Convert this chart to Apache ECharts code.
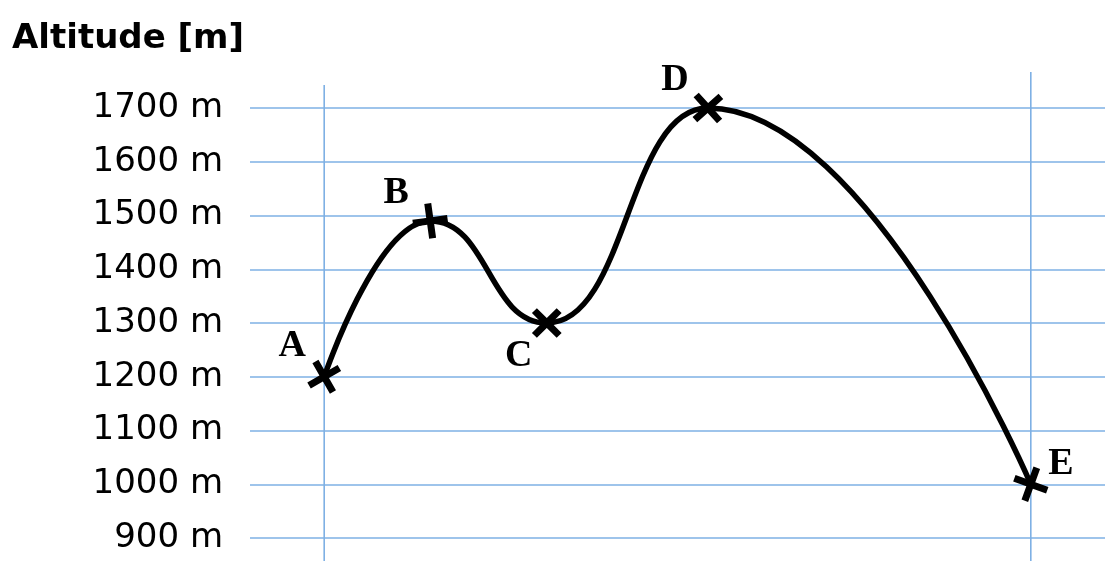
<!DOCTYPE html>
<html>
<head>
<meta charset="utf-8">
<script src="https://cdn.jsdelivr.net/npm/echarts@6/dist/echarts.min.js"></script>
<style>
  html, body { margin: 0; padding: 0; background: #fff; }
  #chart { width: 1105px; height: 561px; }
</style>
</head>
<body>
<div id="chart"></div>
<script>
// points along the route
const names = ["A", "B", "C", "D", "E"];
const distance = [0, 1.5, 3.15, 5.43, 10];
const altitude = [1200, 1490, 1300, 1700, 1000];
const yTicks = [900, 1000, 1100, 1200, 1300, 1400, 1500, 1600, 1700];

// cross rotation and label offset per point
const crossRotate = [30, 8, 45, 42, -20];
const labelOffset = [[-32, -31], [-34, -28], [-28, 33], [-33, -28], [30, -20]];

// vertical guide lines at start and end (top end in altitude units)
const guideTop = [1743, 1767];
const guideBottom = 850;

const gridBlue = "#7eb0e4";
const plus = "path://M-2,-10L2,-10L2,-2L10,-2L10,2L2,2L2,10L-2,10L-2,2L-10,2L-10,-2L-2,-2Z";

const points = names.map((n, i) => [distance[i], altitude[i]]);

const guide = (x, top) => ({
  type: "line",
  z: 1,
  silent: true,
  clip: false,
  symbol: "none",
  lineStyle: { color: gridBlue, width: 1.6 },
  data: [[x, top], [x, guideBottom]],
});

const chart = echarts.init(document.getElementById("chart"));
chart.setOption({
  animation: false,
  title: {
    text: "Altitude [m]",
    left: 7,
    top: 17,
    textStyle: { fontFamily: "DejaVu Sans", fontWeight: "bold", fontSize: 34, color: "#000" },
  },
  grid: { left: 250, right: 0, top: 108, bottom: 23 },
  xAxis: {
    type: "value",
    min: -1.05,
    max: 11.05,
    show: false,
    splitLine: { show: false },
  },
  yAxis: {
    type: "value",
    min: yTicks[0],
    max: yTicks[yTicks.length - 1],
    interval: 100,
    axisLine: { show: false },
    axisTick: { show: false },
    axisLabel: {
      formatter: (v) => v + " m",
      margin: 27,
      color: "#000",
      fontFamily: "DejaVu Sans",
      fontSize: 34,
    },
    splitLine: { lineStyle: { color: gridBlue, width: 1.6 } },
  },
  series: [
    guide(distance[0], guideTop[0]),
    guide(distance[distance.length - 1], guideTop[1]),
    {
      type: "line",
      z: 3,
      clip: false,
      smooth: 0.5,
      smoothMonotone: "x",
      lineStyle: { color: "#000", width: 5.5 },
      symbol: plus,
      symbolSize: 35,
      itemStyle: { color: "#000" },
      label: {
        show: true,
        position: "inside",
        formatter: (p) => p.name,
        fontFamily: "Liberation Serif",
        fontWeight: "bold",
        fontSize: 38,
        color: "#000",
      },
      data: names.map((n, i) => ({
        name: n,
        value: points[i],
        symbolRotate: crossRotate[i],
        label: { offset: labelOffset[i] },
      })),
    },
  ],
});
</script>
</body>
</html>
